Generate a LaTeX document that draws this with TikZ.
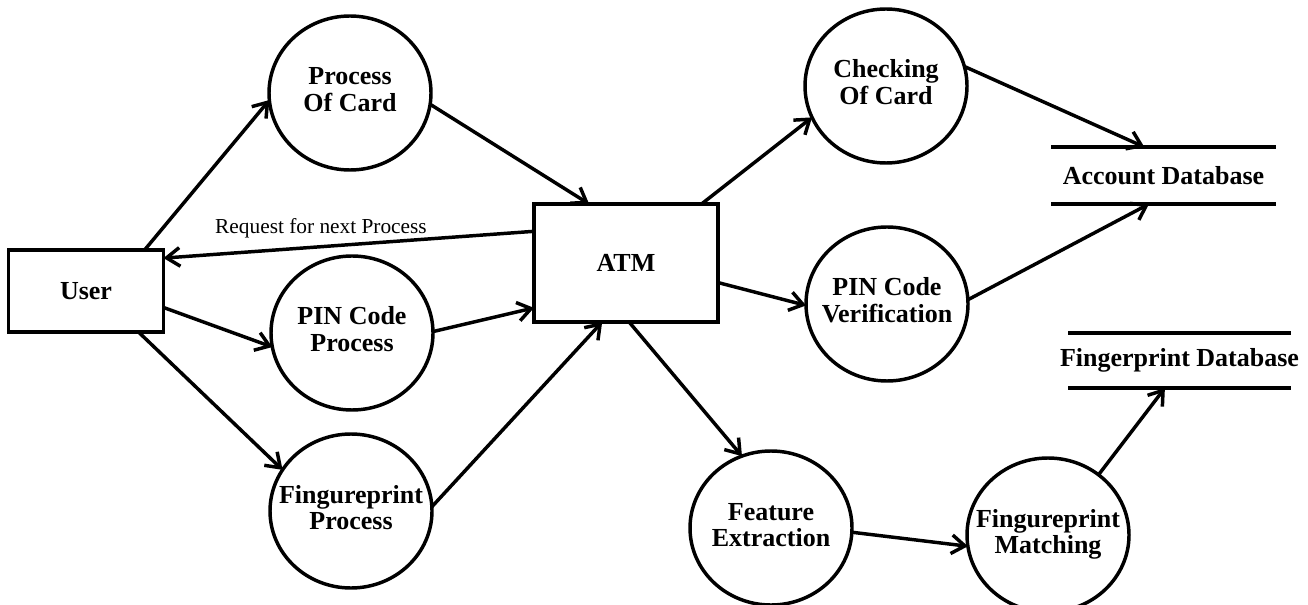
\documentclass[tikz,border=0pt]{standalone}
\usepackage{fontspec}
\setmainfont{Liberation Serif}
\usetikzlibrary{arrows.meta,shapes.geometric}
\newcommand{\twoline}[2]{\makebox[0pt]{\begin{tabular}{@{}c@{}}#1\\#2\end{tabular}}}
\begin{document}
\begin{tikzpicture}[x=0.75pt,y=-0.75pt,
  lw/.style={line width=2.6pt},
  bigtext/.style={font=\bfseries\fontsize{19.5}{20}\selectfont},
  proc/.style={ellipse,draw,lw,inner sep=0pt,outer sep=0pt,minimum width=121.5pt,minimum height=115.5pt,bigtext},
  entity/.style={rectangle,draw,lw,inner sep=0pt,outer sep=0pt,bigtext},
  store/.style={rectangle,draw=none,inner sep=0pt,outer sep=0pt,bigtext},
  flow/.style={lw,-{Straight Barb[length=10pt,width=14pt]}},
  lbl/.style={inner sep=0pt,font=\fontsize{16}{18}\selectfont}]
\useasboundingbox[fill=white] (0,0) rectangle (1308,605);

% entities
\node[entity,minimum width=116.25pt,minimum height=61.5pt] (user) at (86,291) {User};
\node[entity,minimum width=138pt,minimum height=88.5pt] (atm) at (626,263) {ATM};

% processes
\node[proc] (poc) at (350,93) {\twoline{Process}{Of Card}};
\node[proc] (pinp) at (352,333) {\twoline{PIN Code}{Process}};
\node[proc] (fp) at (351,511) {\twoline{Fingureprint}{Process}};
\node[proc] (coc) at (886,86) {\twoline{Checking}{Of Card}};
\node[proc] (pinv) at (887,304) {\twoline{PIN Code}{Verification}};
\node[proc] (fe) at (771,528) {\twoline{Feature}{Extraction}};
\node[proc] (fm) at (1048,535) {\twoline{Fingureprint}{Matching}};

% data stores
\node[store,minimum width=168.75pt,minimum height=42.75pt] (acc) at (1163.5,175.5) {\makebox[0pt]{Account Database}};
\node[store,minimum width=167.25pt,minimum height=41.25pt] (fpdb) at (1179.5,360.5) {\makebox[0pt]{Fingerprint Database}};
\draw[lw] (acc.north west) -- (acc.north east);
\draw[lw] (acc.south west) -- (acc.south east);
\draw[lw] (fpdb.north west) -- (fpdb.north east);
\draw[lw] (fpdb.south west) -- (fpdb.south east);

% label
\node[lbl] (req) at (321,228) {Request for next Process};

% flows
\draw[flow] (user.35) -- (poc.185);
\draw[flow] (poc.-8) -- (atm.122);
\draw[flow] (atm.161.6) -- (user.23);
\draw[flow] (user.-12) -- (pinp.190);
\draw[flow] (pinp.1) -- (atm.206);
\draw[flow] (user.-38) -- (fp.149);
\draw[flow] (fp.3) -- (atm.248);
\draw[flow] (atm.38.7) -- (coc.203);
\draw[flow] (coc.14) -- (acc.124.4);
\draw[flow] (atm.-12.3) -- (pinv.181);
\draw[flow] (pinv.3) -- (acc.243);
\draw[flow] (atm.273) -- (fe.112);
\draw[flow] (fe.-3.4) -- (fm.188.5);
\draw[flow] (fm.50.5) -- (fpdb.242.3);
\end{tikzpicture}
\end{document}
